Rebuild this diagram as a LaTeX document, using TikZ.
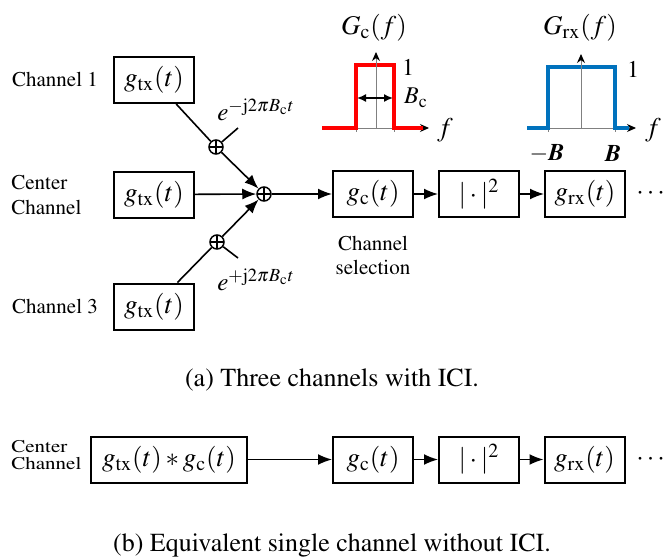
\documentclass[tikz,border=0pt]{standalone}
\usepackage[T1]{fontenc}
\usepackage{mathptmx}
\usetikzlibrary{arrows.meta}
\definecolor{mblue}{RGB}{0,114,189}
\definecolor{mred}{RGB}{255,0,0}
\begin{document}
\begin{tikzpicture}[x=0.5pt,y=-0.5pt,
  blk/.style={draw,line width=1pt,minimum width=40pt,minimum height=23pt,inner sep=0pt,font=\fontsize{13.5}{15}\selectfont},
  adder/.style={circle,draw,line width=0.75pt,minimum size=7pt,inner sep=0pt,
    path picture={\draw[line width=0.75pt] (path picture bounding box.north)--(path picture bounding box.south)
      (path picture bounding box.east)--(path picture bounding box.west);}},
  conn/.style={line width=0.8pt},
  arr/.style={conn,-{Latex[length=7pt,width=5.5pt]}},
  lbl/.style={font=\fontsize{10.5}{12.5}\selectfont,inner sep=0pt},
  explbl/.style={font=\fontsize{12.5}{14}\selectfont,inner sep=0pt},
  plbl/.style={font=\fontsize{12}{14}\selectfont,inner sep=0pt},
  ttl/.style={font=\fontsize{13.5}{15}\selectfont,inner sep=0pt},
  capt/.style={font=\fontsize{13}{15}\selectfont,inner sep=0pt},
  axis/.style={gray,line width=0.5pt},
  axarr/.style={axis,-{Stealth[black,length=4.5pt,width=4pt]}},
  curve/.style={line width=2pt}
]
\useasboundingbox (0,0) rectangle (665,557);

% ---------- (a) ----------
\node[blk] (tx1) at (154,80) {$g_{\mathrm{tx}}(t)$};
\node[blk] (tx2) at (154,194.5) {$g_{\mathrm{tx}}(t)$};
\node[blk] (tx3) at (154,306.5) {$g_{\mathrm{tx}}(t)$};
\node[lbl] (l1) at (55,79) {Channel 1};
\node[lbl,align=left,anchor=west] (l2) at (11,195) {Center\\Channel};
\node[lbl] (l3) at (55,306) {Channel 3};

\node[adder] (a1) at (216,147) {};
\node[adder] (a3) at (217,242) {};
\node[adder] (s) at (264,194) {};
\coordinate (e1) at (238,128);
\coordinate (e3) at (238,258);
\node[explbl] (x1) at (256,110) {$e^{-\mathrm{j}2\pi B_{\mathrm{c}}t}$};
\node[explbl] (x3) at (256,280) {$e^{+\mathrm{j}2\pi B_{\mathrm{c}}t}$};

\draw[conn] (tx1) -- (a1);
\draw[conn] (tx3) -- (a3);
\draw[conn] (a1) -- (e1);
\draw[conn] (a3) -- (e3);
\draw[arr] (a1) -- (s);
\draw[arr] (a3) -- (s);
\draw[arr] (tx2) -- (s);

\node[blk] (gc) at (373,194) {$g_{\mathrm{c}}(t)$};
\node[blk] (abs) at (479,194) {$|\cdot|^2$};
\node[blk] (grx) at (585,194) {$g_{\mathrm{rx}}(t)$};
\node[font=\fontsize{13.5}{15}\selectfont,inner sep=0pt,anchor=west] (d1) at (636,194) {$\cdots$};
\node[lbl,align=center,font=\fontsize{10.5}{12}\selectfont] (sel) at (373,255) {Channel\\selection};

\draw[arr] (s) -- (gc);
\draw[arr] (gc) -- (abs);
\draw[arr] (abs) -- (grx);

% G_c(f) plot
\draw[axis] (356,128) -- (356,132) (394,128) -- (394,132);
\draw[axarr] (322,128) -- (429,128);
\draw[curve,mred] (322,128) -- (356,128) -- (356,65) -- (394,65) -- (394,128) -- (423,128);
\draw[axarr] (376,128) -- (376,52);
\draw[conn,{Latex[length=4.5pt,width=4pt]}-{Latex[length=4.5pt,width=4pt]}] (357,98) -- (393,98);
\node[ttl] (tc) at (374,28) {$G_{\mathrm{c}}(f)$};
\node[plbl] (one1) at (408,67) {$1$};
\node[plbl] (bc) at (416,98) {$B_{\mathrm{c}}$};
\node[ttl] (f1) at (445,130) {$f$};

% G_rx(f) plot
\draw[axis] (548,128) -- (548,132) (615,128) -- (615,132);
\draw[axarr] (527,128) -- (636,128);
\draw[curve,mblue] (527,128) -- (548,128) -- (548,67) -- (615,67) -- (615,128) -- (629,128);
\draw[axarr] (581,128) -- (581,54);
\node[ttl] (tr) at (580,28) {$G_{\mathrm{rx}}(f)$};
\node[plbl] (one2) at (633,69) {$1$};
\node[ttl] (f2) at (653,130) {$f$};
\node[plbl] (mb) at (547,153) {$-$\textbf{\textit{B}}};
\node[plbl] (pb) at (613,153) {\textbf{\textit{B}}};

\node[capt] (capa) at (332,380) {(a) Three channels with ICI.};

% ---------- (b) ----------
\node[inner sep=0pt,anchor=west] (l4) at (11,457) {\scalebox{1}[0.85]{\fontsize{10.5}{9}\selectfont\begin{tabular}{@{}l@{}}Center\\Channel\end{tabular}}};
\node[blk,minimum width=78pt] (conv) at (169,459.5) {$g_{\mathrm{tx}}(t)*g_{\mathrm{c}}(t)$};
\node[blk] (gc2) at (373,459.5) {$g_{\mathrm{c}}(t)$};
\node[blk] (abs2) at (479,459.5) {$|\cdot|^2$};
\node[blk] (grx2) at (584.5,459.5) {$g_{\mathrm{rx}}(t)$};
\node[font=\fontsize{13.5}{15}\selectfont,inner sep=0pt,anchor=west] (d2) at (636,459.5) {$\cdots$};
\draw[arr] (conv) -- (gc2);
\draw[arr] (gc2) -- (abs2);
\draw[arr] (abs2) -- (grx2);

\node[capt] (capb) at (332,545) {(b) Equivalent single channel without ICI.};
\end{tikzpicture}
\end{document}
